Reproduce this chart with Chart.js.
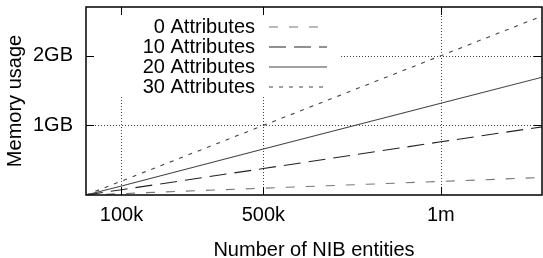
<!DOCTYPE html>
<html>
<head>
<meta charset="utf-8">
<script src="https://cdn.jsdelivr.net/npm/chart.js@4.4.1/dist/chart.umd.min.js"></script>
<style>
  html, body { margin: 0; padding: 0; background: #fff; }
  #wrap { width: 543px; height: 258px; }
</style>
</head>
<body>
<div id="wrap"><canvas id="chartMemori"></canvas></div>
<script>
// data (GB vs jumlah entitas NIB)
const entitas = [0, 100000, 500000, 1000000, 1300000];
const attr0 = [0, 0.02, 0.098, 0.195, 0.254];
const attr10 = [0, 0.076, 0.38, 0.764, 0.99];
const attr20 = [0, 0.13, 0.66, 1.317, 1.71];
const attr30 = [0, 0.2, 1.0, 2.0, 2.6];
const namaSeri = ["0 Attributes", "10 Attributes", "20 Attributes", "30 Attributes"];

const tickX = [100000, 500000, 1000000];
const labelX = ["100k", "500k", "1m"];
const tickY = [1, 2];
const labelY = ["1GB", "2GB"];

const FONT = "'Liberation Sans', Arial, sans-serif";
const dashes = [[9, 11], [17, 8], [], [4, 6]];
const warna = ["#777", "#222", "#444", "#444"];

const toXY = (ys) => ys.map((y, i) => ({ x: entitas[i], y: y }));

// grid titik-titik, kotak legend, bingkai & tick ke dalam (gaya gnuplot)
const gayaGnuplot = {
  id: "gayaGnuplot",
  beforeDatasetsDraw(chart) {
    const { ctx, chartArea: a, scales } = chart;
    ctx.save();
    ctx.strokeStyle = "#444";
    ctx.lineWidth = 1;
    ctx.setLineDash([1, 2]);
    tickX.forEach((v) => {
      const x = Math.round(scales.x.getPixelForValue(v)) + 0.5;
      ctx.beginPath(); ctx.moveTo(x, a.top); ctx.lineTo(x, a.bottom); ctx.stroke();
    });
    tickY.forEach((v) => {
      const y = Math.round(scales.y.getPixelForValue(v)) + 0.5;
      ctx.beginPath(); ctx.moveTo(a.left, y); ctx.lineTo(a.right, y); ctx.stroke();
    });
    // area legend menutupi grid
    ctx.fillStyle = "#fff";
    ctx.fillRect(a.left, a.top, 253, 90);
    ctx.restore();
  },
  afterDatasetsDraw(chart) {
    const { ctx, chartArea: a, scales } = chart;
    ctx.save();
    ctx.strokeStyle = "#000";
    ctx.setLineDash([]);
    ctx.lineWidth = 1;
    tickX.forEach((v) => {
      const x = Math.round(scales.x.getPixelForValue(v)) + 0.5;
      ctx.beginPath();
      ctx.moveTo(x, a.bottom); ctx.lineTo(x, a.bottom - 8);
      ctx.moveTo(x, a.top); ctx.lineTo(x, a.top + 8);
      ctx.stroke();
    });
    tickY.forEach((v) => {
      const y = Math.round(scales.y.getPixelForValue(v)) + 0.5;
      ctx.beginPath();
      ctx.moveTo(a.left, y); ctx.lineTo(a.left + 8, y);
      ctx.moveTo(a.right, y); ctx.lineTo(a.right - 8, y);
      ctx.stroke();
    });
    ctx.lineWidth = 1.5;
    ctx.strokeRect(a.left, a.top, a.right - a.left, a.bottom - a.top);

    // legend
    ctx.font = "20px " + FONT;
    ctx.fillStyle = "#000";
    ctx.textAlign = "right";
    ctx.textBaseline = "middle";
    chart.data.datasets.forEach((ds, i) => {
      const y = a.top + 20 + i * 20;
      ctx.fillText(ds.label, a.left + 169, y);
      ctx.strokeStyle = ds.borderColor;
      ctx.lineWidth = ds.borderWidth;
      ctx.setLineDash(ds.borderDash);
      ctx.beginPath();
      ctx.moveTo(a.left + 183, y);
      ctx.lineTo(a.left + 241, y);
      ctx.stroke();
    });
    ctx.restore();
  },
};

const seri = [attr0, attr10, attr20, attr30];

new Chart(document.getElementById("chartMemori"), {
  type: "line",
  data: {
    datasets: seri.map((s, i) => ({
      label: namaSeri[i],
      data: toXY(s),
      borderColor: warna[i],
      borderWidth: 1.1,
      borderDash: dashes[i],
      pointRadius: 0,
      tension: 0,
    })),
  },
  options: {
    responsive: true,
    maintainAspectRatio: false,
    animation: false,
    layout: { padding: { top: 7, right: 1, left: 0, bottom: 0 } },
    plugins: { legend: { display: false }, tooltip: { enabled: false } },
    scales: {
      x: {
        type: "linear",
        min: 0,
        max: 1285000,
        grid: { display: false, drawTicks: false },
        border: { display: false },
        afterBuildTicks: (s) => { s.ticks = tickX.map((v) => ({ value: v })); },
        afterFit: (s) => {
          s.height = 63;
          s.paddingLeft = 0;
          s.paddingRight = 0;
        },
        ticks: {
          color: "#000",
          padding: 8,
          maxRotation: 0,
          font: { family: FONT, size: 20 },
          callback: (v) => labelX[tickX.indexOf(v)],
        },
        title: {
          display: true,
          text: "Number of NIB entities",
          color: "#000",
          font: { family: FONT, size: 20 },
          padding: { top: 0, bottom: -4 },
        },
      },
      y: {
        min: 0,
        max: 2.7,
        grid: { display: false, drawTicks: false },
        border: { display: false },
        afterBuildTicks: (s) => { s.ticks = tickY.map((v) => ({ value: v })); },
        afterFit: (s) => {
          s.width = 86;
          s.paddingTop = 0;
          s.paddingBottom = 0;
        },
        ticks: {
          color: "#000",
          padding: 13,
          font: { family: FONT, size: 20 },
          callback: (v) => labelY[tickY.indexOf(v)],
        },
        title: {
          display: true,
          text: "Memory usage",
          color: "#000",
          font: { family: FONT, size: 20 },
          padding: { top: 3, bottom: 0 },
        },
      },
    },
  },
  plugins: [gayaGnuplot],
});
</script>
</body>
</html>
